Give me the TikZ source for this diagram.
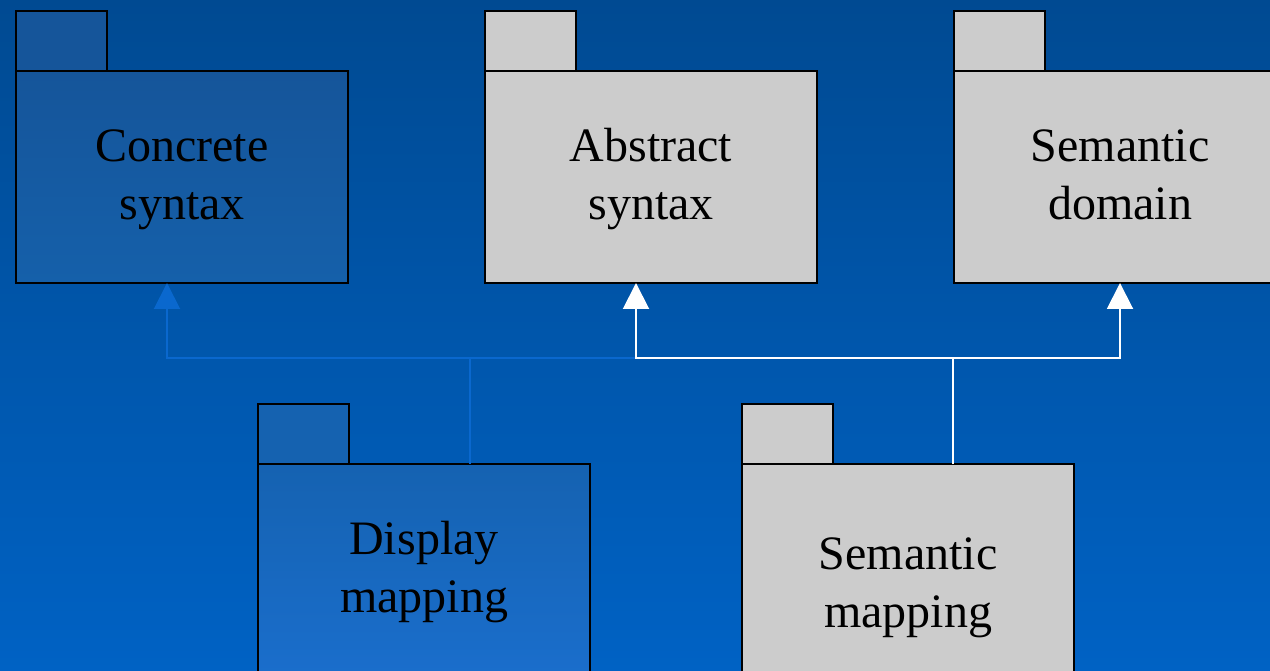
\documentclass[tikz,border=0pt]{standalone}
\usepackage{fontspec}
\setmainfont{Liberation Serif}
\usetikzlibrary{arrows.meta,calc}

\definecolor{bgtop}{RGB}{0,74,146}
\definecolor{bgbot}{RGB}{0,98,196}
\definecolor{pkggray}{RGB}{204,204,204}
\definecolor{linkblue}{RGB}{10,104,206}

% line strut so every two-line label sits at the same baselines
\newcommand\pkgstrut{\rule[-15.4pt]{0pt}{58pt}}

\tikzset{
  x=1pt, y=-1pt,
  pkgbody/.style={draw=black, line width=2pt, inner sep=0pt, outer sep=0pt, anchor=north west,
    minimum width=332pt, minimum height=212pt, align=center,
    font=\fontsize{48}{58}\selectfont, text=black},
  pkgtab/.style={draw=black, line width=2pt, inner sep=0pt, outer sep=0pt, anchor=south west,
    minimum width=91pt, minimum height=60pt},
  graypkg/.style={fill=pkggray},
  bluelink/.style={draw=linkblue, line width=2pt},
  whitelink/.style={draw=white, line width=2pt},
  tip/.style={-{Triangle[width=26pt,length=26pt]}},
}

\begin{document}
\begin{tikzpicture}
  % page background
  \useasboundingbox (0,0) rectangle (1270,671);
  \clip (0,0) rectangle (1270,671);
  \shade[top color=bgtop, bottom color=bgbot] (0,0) rectangle (1270,671);

  % upper row of packages
  \node[pkgbody, top color={rgb,255:red,21;green,85;blue,154}, bottom color={rgb,255:red,21;green,96;blue,170}]
    (cs) at (16,71) {\pkgstrut Concrete\\\pkgstrut syntax};
  \node[pkgtab, fill={rgb,255:red,21;green,85;blue,154}] (cstab) at (cs.north west) {};

  \node[pkgbody, graypkg] (as) at (485,71) {\pkgstrut Abstract\\\pkgstrut syntax};
  \node[pkgtab, graypkg] (astab) at (as.north west) {};

  \node[pkgbody, graypkg] (sd) at (954,71) {\pkgstrut Semantic\\\pkgstrut domain};
  \node[pkgtab, graypkg] (sdtab) at (sd.north west) {};

  % lower row of packages
  \node[pkgbody, top color={rgb,255:red,21;green,98;blue,177}, bottom color={rgb,255:red,26;green,110;blue,204}]
    (dm) at (258,464) {\pkgstrut Display\\\pkgstrut mapping};
  \node[pkgtab, fill={rgb,255:red,21;green,98;blue,176}] (dmtab) at (dm.north west) {};

  \node[pkgbody, graypkg, minimum height=242pt] (sm) at (742,464) {\pkgstrut Semantic\\\pkgstrut mapping};
  \node[pkgtab, graypkg] (smtab) at (sm.north west) {};

  % connector end points
  \coordinate (bus) at (0,358);
  \coordinate (dmout) at ($(dm.north west)+(212,0)$);
  \coordinate (smout) at ($(sm.north west)+(211,0)$);
  \coordinate (csin) at ($(cs.south west)+(151,0)$);
  \coordinate (asin) at ($(as.south west)+(151,0)$);
  \coordinate (sdin) at (sd.south);

  % display mapping dependencies
  \draw[bluelink, tip] (dmout) -- (dmout |- bus) -| (csin);
  \draw[bluelink] (dmout |- bus) -- (asin |- bus);

  % semantic mapping dependencies
  \draw[whitelink, tip] (smout) -- (smout |- bus) -| (asin);
  \draw[whitelink, tip] (smout |- bus) -| (sdin);
\end{tikzpicture}
\end{document}
